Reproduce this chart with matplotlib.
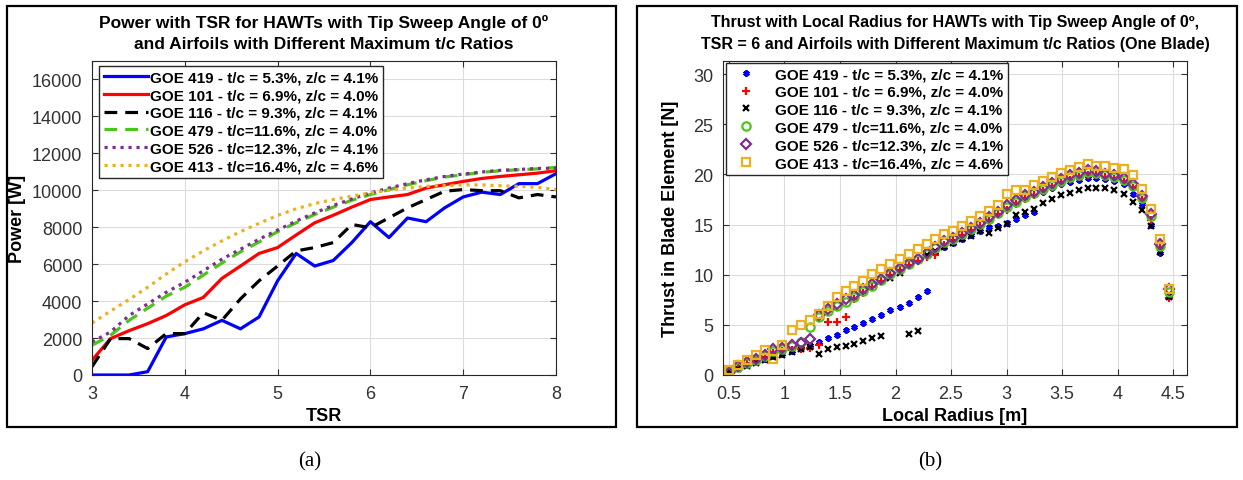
import matplotlib
matplotlib.use("Agg")
import matplotlib.pyplot as plt
from matplotlib.patches import Rectangle

plt.rcParams['font.family'] = ['Liberation Sans', 'DejaVu Sans']

W, H = 1243, 481

# ---- data: power vs TSR ----
tsr = [3.0, 3.2, 3.4, 3.6, 3.8, 4.0, 4.2, 4.4, 4.6, 4.8, 5.0, 5.2, 5.4,
       5.6, 5.8, 6.0, 6.2, 6.4, 6.6, 6.8, 7.0, 7.2, 7.4, 7.6, 7.8, 8.0]
p_419 = [0, 0, 0, 180, 2060, 2240, 2500, 2960, 2500, 3140, 5100, 6580, 5900,
         6200, 7170, 8300, 7440, 8500, 8300, 9050, 9640, 9900, 9770, 10360, 10360, 10900]
p_101 = [800, 1970, 2400, 2780, 3220, 3800, 4200, 5230, 5900, 6580, 6900, 7580, 8240,
         8650, 9090, 9500, 9640, 9770, 10120, 10300, 10480, 10640, 10750, 10840, 10930, 11060]
p_116 = [450, 1970, 1970, 1430, 2240, 2240, 3370, 2960, 4120, 5100, 5900, 6720, 6900,
         7170, 8150, 7970, 8510, 9050, 9500, 9950, 10040, 9980, 9980, 9590, 9770, 9640]
p_479 = [1610, 2150, 2960, 3620, 4270, 4750, 5410, 6060, 6670, 7200, 7760, 8240, 8690,
         9090, 9460, 9770, 10040, 10300, 10520, 10720, 10840, 10970, 11060, 11110, 11160, 11240]
p_526 = [1790, 2330, 3220, 3850, 4480, 5020, 5640, 6270, 6810, 7350, 7850, 8330, 8780,
         9180, 9530, 9860, 10120, 10360, 10570, 10750, 10880, 10990, 11080, 11130, 11180, 11200]
p_413 = [2810, 3460, 4090, 4750, 5470, 6130, 6720, 7260, 7760, 8210, 8640, 9000, 9280,
         9500, 9680, 9860, 10000, 10120, 10210, 10250, 10290, 10290, 10250, 10210, 10160, 10040]

# ---- data: thrust vs local radius ----
radius = [0.50, 0.58, 0.66, 0.74, 0.82, 0.90, 0.98, 1.07, 1.15, 1.23,
          1.31, 1.39, 1.47, 1.55, 1.63, 1.71, 1.79, 1.87, 1.95, 2.04,
          2.12, 2.20, 2.28, 2.36, 2.44, 2.52, 2.60, 2.68, 2.76, 2.84,
          2.92, 3.00, 3.09, 3.17, 3.25, 3.33, 3.41, 3.49, 3.57, 3.65,
          3.73, 3.81, 3.89, 3.97, 4.06, 4.14, 4.22, 4.30, 4.38, 4.46]
t_419 = [0.5, 0.7, 1.0, 1.3, 1.6, 1.9, 2.1, 2.4, 2.7, 3.0,
         3.3, 3.7, 4.0, 4.5, 4.8, 5.2, 5.6, 6.0, 6.5, 6.8,
         7.2, 7.8, 8.4, 12.3, 12.8, 13.2, 13.6, 14.0, 14.4, 14.8,
         14.9, 15.2, 15.6, 15.9, 16.2, 18.2, 18.6, 19.0, 19.2, 19.4,
         19.6, 19.6, 19.5, 19.3, 19.0, 18.0, 17.0, 15.0, 12.2, 8.0]
t_101 = [0.4, 0.7, 1.1, 1.4, 1.8, 2.2, 2.4, 2.5, 2.6, 2.7,
         3.0, 5.3, 5.3, 5.8, 7.6, 8.2, 8.8, 9.4, 10.0, 10.5,
         11.0, 11.4, 11.8, 12.0, 13.0, 13.5, 14.0, 14.5, 14.9, 15.4,
         16.0, 16.4, 17.0, 17.5, 17.9, 18.3, 18.7, 19.1, 19.4, 19.7,
         19.9, 19.9, 19.7, 19.5, 19.2, 18.6, 17.4, 15.5, 12.7, 7.7]
t_116 = [0.3, 0.6, 0.9, 1.2, 1.5, 1.8, 2.0, 2.3, 2.6, 2.8,
         2.1, 2.6, 2.8, 2.9, 3.1, 3.4, 3.7, 3.9, 9.7, 10.2,
         4.1, 4.4, 12.0, 12.4, 12.8, 13.2, 13.6, 13.9, 14.4, 14.2,
         14.7, 15.1, 15.9, 16.2, 16.5, 17.1, 17.5, 17.9, 18.1, 18.4,
         18.6, 18.6, 18.6, 18.4, 18.0, 17.2, 16.4, 14.9, 12.3, 7.8]
t_479 = [0.4, 0.8, 1.2, 1.5, 1.9, 2.4, 2.6, 2.9, 3.3, 4.8,
         5.8, 6.4, 6.9, 7.3, 7.8, 8.4, 8.9, 9.5, 10.1, 10.6,
         11.1, 11.6, 12.1, 12.7, 13.3, 13.6, 14.1, 14.6, 15.1, 15.6,
         16.1, 16.7, 17.2, 17.7, 18.1, 18.5, 18.9, 19.3, 19.7, 19.9,
         20.2, 20.1, 19.9, 19.7, 19.4, 18.8, 17.6, 15.8, 12.9, 8.3]
t_526 = [0.2, 0.9, 1.3, 1.6, 2.0, 2.6, 2.7, 3.0, 3.2, 3.6,
         6.0, 6.6, 7.1, 7.6, 8.0, 8.6, 9.1, 9.6, 10.2, 10.7,
         11.2, 11.6, 12.2, 12.8, 13.4, 13.7, 14.2, 14.7, 15.2, 15.7,
         16.2, 16.9, 17.4, 17.9, 18.2, 18.7, 19.1, 19.5, 19.9, 20.1,
         20.4, 20.3, 20.0, 19.9, 19.6, 19.0, 17.8, 16.0, 13.1, 8.6]
t_413 = [0.5, 1.0, 1.5, 2.0, 2.5, 1.6, 3.0, 4.5, 5.0, 5.5,
         6.1, 6.9, 7.8, 8.4, 8.9, 9.4, 10.1, 10.6, 11.1, 11.6,
         12.1, 12.6, 13.1, 13.6, 14.1, 14.4, 14.9, 15.4, 15.8, 16.3,
         16.9, 18.0, 18.4, 18.4, 18.9, 19.3, 19.7, 20.1, 20.4, 20.7,
         21.0, 20.8, 20.8, 20.6, 20.5, 19.9, 18.5, 16.5, 13.6, 8.6]

labels = ["GOE 419 - t/c = 5.3%, z/c = 4.1%",
          "GOE 101 - t/c = 6.9%, z/c = 4.0%",
          "GOE 116 - t/c = 9.3%, z/c = 4.1%",
          "GOE 479 - t/c=11.6%, z/c = 4.0%",
          "GOE 526 - t/c=12.3%, z/c = 4.1%",
          "GOE 413 - t/c=16.4%, z/c = 4.6%"]
colors = ["#0000ff", "#ff0000", "#000000", "#4dc41a", "#7e2f8e", "#edb120"]


def px_rect(x0, y0, x1, y1):
    return [x0 / W, 1 - y1 / H, (x1 - x0) / W, (y1 - y0) / H]


def style_axes(ax):
    ax.grid(True, color="#dcdcdc", lw=0.8)
    ax.set_axisbelow(True)
    for s in ax.spines.values():
        s.set_color("#262626")
        s.set_linewidth(0.8)
    ax.tick_params(direction="in", top=True, right=True, labelsize=13,
                   colors="#333333", length=4, pad=7)


fig = plt.figure(figsize=(W / 100, H / 100), dpi=100)

# outer frames
fig.patches.append(Rectangle((7 / W, 1 - 428 / H), 609 / W, 421 / H, transform=fig.transFigure,
                             fill=False, ec="black", lw=1.6))
fig.patches.append(Rectangle((637 / W, 1 - 428 / H), 600 / W, 421 / H, transform=fig.transFigure,
                             fill=False, ec="black", lw=1.6))

# ---- left: power ----
ax1 = fig.add_axes(px_rect(92, 62, 556, 376))
series = [p_419, p_101, p_116, p_479, p_526, p_413]
styles = ["-", "-", (0, (4, 2.5)), (0, (4, 2.5)), (0, (1, 1.5)), (0, (1, 1.5))]
for y, c, ls, lab in zip(series, colors, styles, labels):
    ax1.plot(tsr, y, color=c, ls=ls, lw=2.3, label=lab)
ax1.set_xlim(3, 8)
ax1.set_ylim(0, 17000)
ax1.set_xticks([3, 4, 5, 6, 7, 8])
ax1.set_yticks(range(0, 16001, 2000))
style_axes(ax1)
ax1.set_xlabel("TSR", fontsize=13, fontweight="bold", labelpad=4)
ax1.set_ylabel("Power [W]", fontsize=13, fontweight="bold", labelpad=4)
leg1 = ax1.legend(loc="upper left", bbox_to_anchor=(0.016, 0.985), prop={"weight": "bold", "size": 11},
                  frameon=True, fancybox=False, edgecolor="#262626", framealpha=1,
                  handlelength=2.9, handletextpad=0.1, labelspacing=0.25, borderpad=0.3,
                  borderaxespad=0)
leg1.get_frame().set_linewidth(1.0)
fig.text(324 / W, 1 - 23 / H, "Power with TSR for HAWTs with Tip Sweep Angle of 0º",
         ha="center", va="center", fontsize=12.5, fontweight="bold")
fig.text(324 / W, 1 - 45 / H, "and Airfoils with Different Maximum t/c Ratios",
         ha="center", va="center", fontsize=12.5, fontweight="bold")

# ---- right: thrust ----
ax2 = fig.add_axes(px_rect(723, 62, 1187, 376))
tseries = [t_419, t_101, t_116, t_479, t_526, t_413]
markers = [(6, 2, 0), "+", "x", "o", "D", "s"]
msizes = [4.5, 6, 5, 6, 5, 5.5]
for y, c, m, ms, lab in zip(tseries, colors, markers, msizes, labels):
    filled = m in [(6, 2, 0), "+", "x"]
    ax2.plot(radius, y, ls="none", marker=m, ms=ms, color=c,
             mfc=c if filled else "none", mec=c, mew=1.6, label=lab)
ax2.set_xlim(0.446, 4.626)
ax2.set_ylim(0, 31.3)
ax2.set_xticks([0.5, 1, 1.5, 2, 2.5, 3, 3.5, 4, 4.5])
ax2.set_xticklabels(["0.5", "1", "1.5", "2", "2.5", "3", "3.5", "4", "4.5"])
ax2.set_yticks(range(0, 31, 5))
style_axes(ax2)
ax2.set_xlabel("Local Radius [m]", fontsize=13, fontweight="bold", labelpad=4)
ax2.set_ylabel("Thrust in Blade Element [N]", fontsize=13, fontweight="bold", labelpad=10)
leg2 = ax2.legend(loc="upper left", bbox_to_anchor=(0.006, 0.995), prop={"weight": "bold", "size": 11},
                  frameon=True, fancybox=False, edgecolor="#262626", framealpha=1,
                  handlelength=2.0, handletextpad=0.9, labelspacing=0.25, borderpad=0.3,
                  borderaxespad=0)
leg2.get_frame().set_linewidth(1.0)
fig.text(955 / W, 1 - 23 / H, "Thrust with Local Radius for HAWTs with Tip Sweep Angle of 0º,",
         ha="center", va="center", fontsize=11.5, fontweight="bold")
fig.text(955 / W, 1 - 45 / H, "TSR = 6 and Airfoils with Different Maximum t/c Ratios (One Blade)",
         ha="center", va="center", fontsize=11.5, fontweight="bold")

# panel captions
fig.text(310 / W, 1 - 462 / H, "(a)", ha="center", va="center", fontsize=15,
         family=["Liberation Serif", "DejaVu Serif"])
fig.text(930 / W, 1 - 462 / H, "(b)", ha="center", va="center", fontsize=15,
         family=["Liberation Serif", "DejaVu Serif"])

fig.savefig("out.png", dpi=100)
